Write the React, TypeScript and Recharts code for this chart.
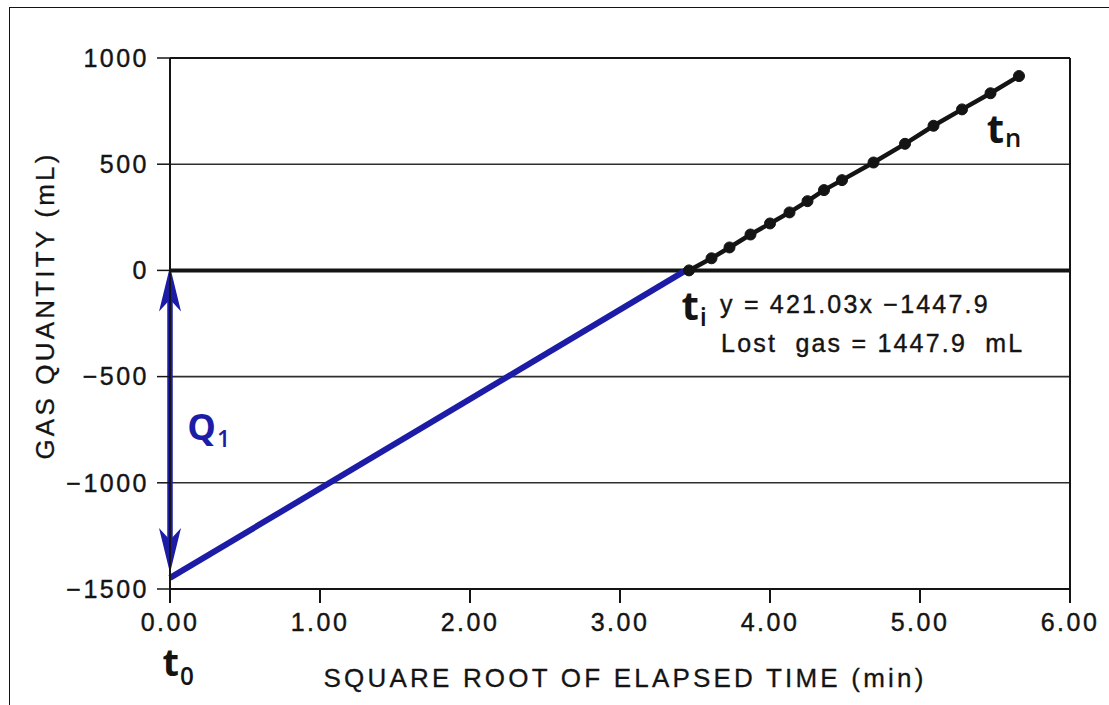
import React from 'react';
import { LineChart, Line, XAxis, YAxis, CartesianGrid, ReferenceLine, ReferenceDot } from 'recharts';

// measured points (sqrt of elapsed time vs cumulative gas)
const sqrtTime = [3.46, 3.61, 3.73, 3.87, 4.0, 4.13, 4.25, 4.36, 4.48, 4.69, 4.9, 5.09, 5.28, 5.47, 5.66];
const gasQty = [0, 57, 108, 169, 221, 273, 326, 378, 425, 508, 596, 681, 758, 834, 915];

// back-extrapolated lost gas line
const lostX = [0, 3.439];
const lostY = [-1447.9, 0];

const xTicks = [0, 1, 2, 3, 4, 5, 6];
const yTicks = [-1500, -1000, -500, 0, 500, 1000];

const eqLines = ['y = 421.03x −1447.9', 'Lost  gas = 1447.9  mL'];

const BLUE = '#1c1ca6';
const INK = '#141414';

const measured = sqrtTime.map((x, i) => ({ x, y: gasQty[i] }));
const lost = lostX.map((x, i) => ({ x, y: lostY[i] }));

const tickFont = {
  fontSize: 25, fill: INK, stroke: INK, strokeWidth: 0.4,
  fontFamily: 'Liberation Sans, Arial, sans-serif', letterSpacing: 2.5,
};
const titleFont = {
  fontSize: 26, fill: INK, stroke: INK, strokeWidth: 0.3,
  fontFamily: 'Liberation Sans, Arial, sans-serif', letterSpacing: 3.2,
};

const subLabel = (main: string, sub: string, color: string, size: number, subDy: number) => (props: any) => {
  const { x, y } = props.viewBox;
  return (
    <text x={x} y={y} fill={color} fontFamily="Open Sans, sans-serif">
      <tspan fontSize={size} fontWeight={700}>{main}</tspan>
      <tspan fontSize={size * 0.64} fontWeight={600} dx={1} dy={subDy}>{sub}</tspan>
    </text>
  );
};

const eqLabel = (props: any) => {
  const { x, y } = props.viewBox;
  return (
    <text x={x} y={y} fill={INK} stroke={INK} strokeWidth={0.4} fontSize={25} letterSpacing={2.2}
      fontFamily="Liberation Sans, Arial, sans-serif" style={{ whiteSpace: 'pre' }}>
      <tspan x={x}>{eqLines[0]}</tspan>
      <tspan x={x + 1} dy={39}>{eqLines[1]}</tspan>
    </text>
  );
};

const ArrowShape = (props: any) => {
  const { x1, y1, x2, y2 } = props;
  const x = x1;
  const top = Math.min(y1, y2) - 4;
  const bot = Math.max(y1, y2) - 5;
  return (
    <g>
      <line x1={x} y1={top + 20} x2={x2} y2={bot - 20} stroke={BLUE} strokeWidth={5.5} />
      <polygon points={`${x},${top} ${x + 11},${top + 45} ${x},${top + 33} ${x - 11},${top + 45}`} fill={BLUE} />
      <polygon points={`${x},${bot} ${x + 11},${bot - 45} ${x},${bot - 33} ${x - 11},${bot - 45}`} fill={BLUE} />
    </g>
  );
};

const App: React.FC = () => {
  return (
    <div style={{ position: 'absolute', left: 0, top: 0, width: 1109, height: 705, background: '#fff' }}>
      <div style={{ position: 'absolute', left: 9, top: 7, width: 1100, height: 698, borderTop: `1.5px solid ${INK}`, borderLeft: `1.5px solid ${INK}` }} />
      <LineChart width={1109} height={705} margin={{ top: 58, right: 39, bottom: 0, left: 0 }}>
        <CartesianGrid horizontal vertical={false} stroke="#2e2e2e" strokeWidth={1.6} />
        <XAxis
          type="number"
          dataKey="x"
          domain={[0, 6]}
          ticks={xTicks}
          height={116}
          tickSize={14}
          tickMargin={10}
          stroke={INK}
          tickLine={{ stroke: INK, strokeWidth: 2 }}
          axisLine={{ stroke: INK, strokeWidth: 2 }}
          tick={tickFont}
          tickFormatter={(v: number) => v.toFixed(2)}
          label={(props: any) => {
            const vb = props.viewBox;
            return (
              <text x={vb.x + vb.width / 2 + 5} y={vb.y + 98} textAnchor="middle" {...titleFont}>
                SQUARE ROOT OF ELAPSED TIME (min)
              </text>
            );
          }}
        />
        <YAxis
          type="number"
          domain={[-1500, 1000]}
          ticks={yTicks}
          width={170}
          tickSize={13}
          tickMargin={8}
          tickLine={{ stroke: INK, strokeWidth: 1.5 }}
          axisLine={{ stroke: INK, strokeWidth: 2 }}
          tick={tickFont}
          tickFormatter={(v: number) => String(v).replace('-', '−')}
          label={(props: any) => {
            const vb = props.viewBox;
            const cx = vb.x + 54;
            const cy = vb.y + vb.height / 2 - 18;
            return (
              <text x={cx} y={cy} textAnchor="middle" transform={`rotate(-90 ${cx} ${cy})`} {...titleFont}>
                GAS QUANTITY (mL)
              </text>
            );
          }}
        />
        <ReferenceLine x={6} stroke={INK} strokeWidth={2} />
        <ReferenceLine y={1000} stroke={INK} strokeWidth={2} />
        <ReferenceLine y={0} stroke={INK} strokeWidth={4} />
        <Line
          data={lost}
          dataKey="y"
          type="linear"
          stroke={BLUE}
          strokeWidth={6}
          dot={false}
          isAnimationActive={false}
        />
        <Line
          data={measured}
          dataKey="y"
          type="linear"
          stroke={INK}
          strokeWidth={4.5}
          dot={{ r: 5.5, fill: INK, stroke: INK, strokeWidth: 1 }}
          isAnimationActive={false}
        />
        <ReferenceLine
          segment={[{ x: lostX[0], y: lostY[1] }, { x: lostX[0], y: lostY[0] }]}
          shape={ArrowShape}
          ifOverflow="visible"
        />
        <ReferenceDot x={-0.05} y={-1912} r={0.01} fill="none" stroke="none" ifOverflow="visible" label={subLabel('t', '0', INK, 38, 9)} />
        <ReferenceDot x={3.41} y={-233.5} r={0.01} fill="none" stroke="none" ifOverflow="visible" label={subLabel('t', 'i', INK, 40, 6)} />
        <ReferenceDot x={5.445} y={600} r={0.01} fill="none" stroke="none" ifOverflow="visible" label={subLabel('t', 'n', INK, 40, 4)} />
        <ReferenceDot x={0.115} y={-798} r={0.01} fill="none" stroke="none" ifOverflow="visible" label={subLabel('Q', '1', BLUE, 36, 7)} />
        <ReferenceDot x={3.667} y={-200.6} r={0.01} fill="none" stroke="none" ifOverflow="visible" label={eqLabel} />
      </LineChart>
    </div>
  );
};

export default App;
